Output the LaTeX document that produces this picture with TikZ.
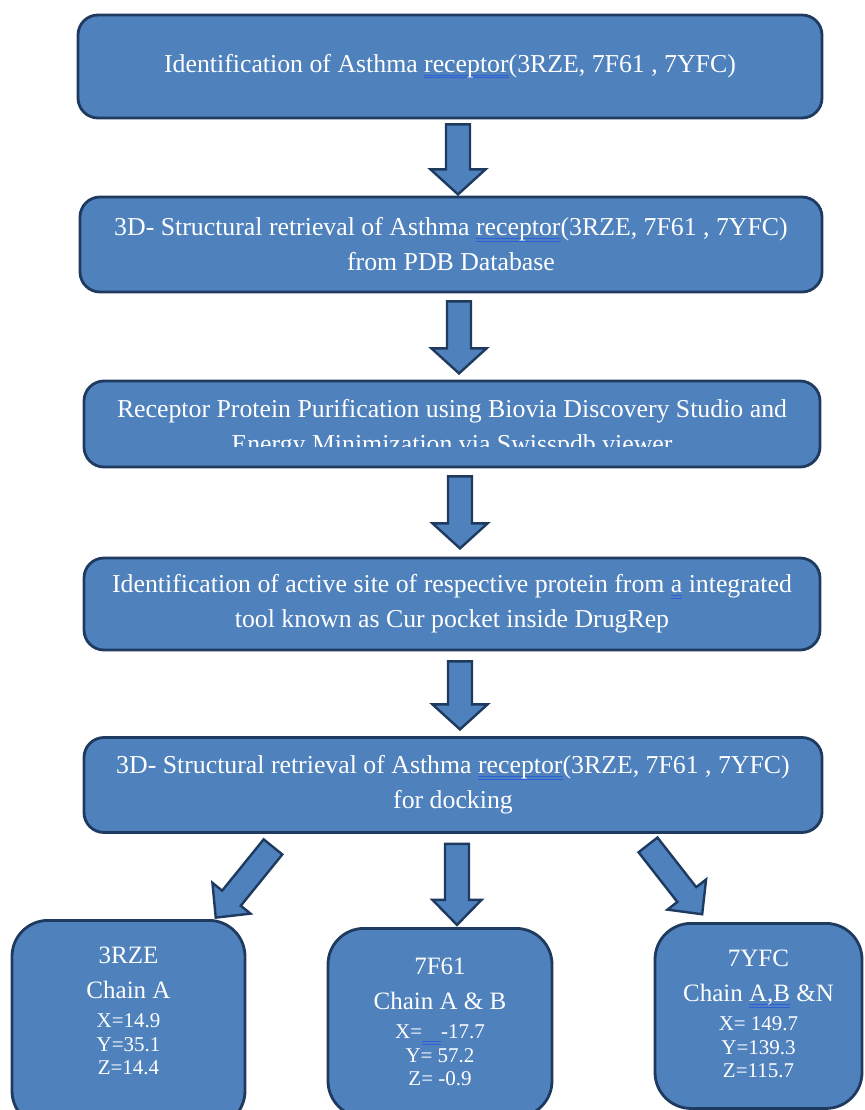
\documentclass[tikz,border=0pt]{standalone}
\usepackage{fontspec}
\setmainfont{Liberation Serif}
\usetikzlibrary{calc}
\definecolor{boxblue}{HTML}{4F81BD}
\definecolor{boxedge}{HTML}{1F3A5F}
\definecolor{spell}{HTML}{2F5FD8}
\newsavebox\spellbox
\newcommand\spellmark[1]{\sbox\spellbox{#1}%
  \rlap{\color{spell}\rule[-3.5pt]{\wd\spellbox}{1pt}}%
  \rlap{\color{spell}\rule[-5.8pt]{\wd\spellbox}{1pt}}\usebox\spellbox}
\newcommand\coordfont{\fontsize{21}{23.5}\selectfont}
\tikzset{
  stepbox/.style={draw=boxedge, line width=2.8pt, fill=boxblue, rounded corners=20pt,
    text=white, align=center, font=\fontsize{25.8}{35}\selectfont},
  resultbox/.style={stepbox, rounded corners=36pt, anchor=north, inner ysep=27pt,
    font=\fontsize{25}{23.5}\selectfont},
  pics/barrow/.style 2 args={code={
    \draw[draw=boxedge, line width=2.4pt, fill=boxblue]
      (-12,0) -- (12,0) -- (12,#1-25) -- (#2,#1-25) -- (0,#1) -- (-#2,#1-25) -- (-12,#1-25) -- cycle;
  }},
}
\begin{document}
\begin{tikzpicture}[x=1pt,y=-1pt]
  \useasboundingbox (0,0) rectangle (864,1110);
  % pipeline steps
  \node[stepbox, minimum width=744pt, minimum height=103pt] (b1) at (450,66.5)
    {Identification of Asthma \spellmark{receptor}(3RZE, 7F61 , 7YFC)};
  \node[stepbox, minimum width=742pt, minimum height=95pt] (b2) at (451,244.5)
    {3D- Structural retrieval of Asthma \spellmark{receptor}(3RZE, 7F61 , 7YFC)\\from PDB Database};
  \node[stepbox, minimum width=736pt, minimum height=86pt] (b3) at (452,424) {};
  \begin{scope}
    \clip (b3.north west) rectangle ($(b3.east)+(0,22)$);
    \node[stepbox, draw=none, fill=none] (b3txt) at ($(b3.center)+(0,4.5)$)
      {Receptor Protein Purification using Biovia Discovery Studio and\\Energy Minimization via Swisspdb viewer};
  \end{scope}
  \node[stepbox, minimum width=736pt, minimum height=92pt] (b4) at (452,604)
    {Identification of active site of respective protein from \spellmark{a} integrated\\tool known as Cur pocket inside DrugRep};
  \node[stepbox, minimum width=738pt, minimum height=95pt] (b5) at (453,785)
    {3D- Structural retrieval of Asthma \spellmark{receptor}(3RZE, 7F61 , 7YFC)\\for docking};
  % arrows between steps
  \foreach \a/\d/\l in {b1/5/70, b2/8/72, b3/8/72, b4/10/68}
    \pic at ($(\a.south)+(8,\d)$) {barrow={\l}{27.5}};
  % receptors
  \node[resultbox, minimum width=233pt, text depth=25pt] (r1) at (128.5,919)
    {3RZE\\[11.5pt]Chain A\\[5.5pt]\coordfont X=14.9\\\coordfont Y=35.1\\\coordfont Z=14.4};
  \node[resultbox, minimum width=224pt, inner ysep=30pt, text depth=1pt] (r2) at (440,927)
    {7F61\\[11.5pt]Chain A \& B\\[5.5pt]\coordfont X=\spellmark{\hspace{0.9em}}-17.7\\\coordfont Y= 57.2\\\coordfont Z= -0.9};
  \node[resultbox, minimum width=207pt, text depth=3.5pt] (r3) at (758.5,922)
    {7YFC\\[11.5pt]Chain \spellmark{A,B} \&N\\[5.5pt]\coordfont X= 149.7\\\coordfont Y=139.3\\\coordfont Z=115.7};
  \pic[rotate=-39] at ($(b5.south)+(-180,13)$) {barrow={91}{24.5}};
  \pic at ($(b5.south)+(4,10)$) {barrow={81}{24.5}};
  \pic[rotate=38] at ($(b5.south)+(195,11)$) {barrow={88}{24.5}};
\end{tikzpicture}
\end{document}
